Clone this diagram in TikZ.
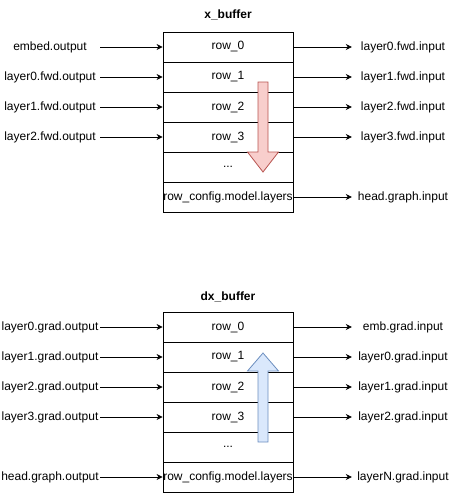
\documentclass[tikz,border=0pt]{standalone}
\usepackage{fontspec}
\setmainfont{Liberation Sans}
\usetikzlibrary{arrows.meta}
\definecolor{fwdfill}{HTML}{F8CECC}
\definecolor{fwdline}{HTML}{B85450}
\definecolor{bwdfill}{HTML}{DAE8FC}
\definecolor{bwdline}{HTML}{6C8EBF}
\tikzset{
  txt/.style={font=\fontsize{12}{14}\selectfont, inner sep=0pt},
  title/.style={txt, font=\fontsize{12}{14}\selectfont\bfseries},
  row/.style={txt, draw, line width=0.8pt, minimum width=130pt, minimum height=30pt},
  inlabel/.style={txt, minimum width=100pt, minimum height=14pt},
  outlabel/.style={txt, minimum width=102pt, minimum height=14pt},
  fwdflow/.style={draw=fwdline, fill=fwdfill, line width=0.8pt},
  bwdflow/.style={draw=bwdline, fill=bwdfill, line width=0.8pt},
}
\begin{document}
\begin{tikzpicture}[x=1pt,y=-1pt]
      \useasboundingbox (0,0) rectangle (455,493);
      % forward buffer
      \node[title] (xtitle) at (228,15) {x\_buffer};
      \draw
        (228,47) node[row] (x0){row\_0}
        (228,77) node[row] (x1){row\_1}
        (228,107) node[row] (x2){row\_2}
        (228,137) node[row] (x3){row\_3}
        (228,167) node[row] (x4){...}
        (228,197) node[row] (x5){row\_config.model.layers};
      \draw
        (50,47) node[inlabel] (xin0){embed.output}
        (50,77) node[inlabel] (xin1){layer0.fwd.output}
        (50,107) node[inlabel] (xin2){layer1.fwd.output}
        (50,137) node[inlabel] (xin3){layer2.fwd.output};
      \draw
        (403,47) node[outlabel] (xout0){layer0.fwd.input}
        (403,77) node[outlabel] (xout1){layer1.fwd.input}
        (403,107) node[outlabel] (xout2){layer2.fwd.input}
        (403,137) node[outlabel] (xout3){layer3.fwd.input}
        (403,197) node[outlabel] (xout5){head.graph.input};
      \begin{scope}[-{Stealth[length=6pt,width=6pt]}, line width=0.8pt]
        \draw (xin0) to (x0);
        \draw (xin1) to (x1);
        \draw (xin2) to (x2);
        \draw (xin3) to (x3);
        \draw (x0) to (xout0);
        \draw (x1) to (xout1);
        \draw (x2) to (xout2);
        \draw (x3) to (xout3);
        \draw (x5) to (xout5);
      \end{scope}
      \draw[fwdflow] (258,82) -- (268,82) -- (268,152) -- (278.5,152)
        -- (263,172) -- (247.5,152) -- (258,152) -- cycle;
      % backward buffer
      \node[title] (dxtitle) at (228,297) {dx\_buffer};
      \draw
        (228,327) node[row] (dx0){row\_0}
        (228,357) node[row] (dx1){row\_1}
        (228,387) node[row] (dx2){row\_2}
        (228,417) node[row] (dx3){row\_3}
        (228,447) node[row] (dx4){...}
        (228,477) node[row] (dx5){row\_config.model.layers};
      \draw
        (50,327) node[inlabel] (dxin0){layer0.grad.output}
        (50,357) node[inlabel] (dxin1){layer1.grad.output}
        (50,387) node[inlabel] (dxin2){layer2.grad.output}
        (50,417) node[inlabel] (dxin3){layer3.grad.output}
        (50,477) node[inlabel] (dxin5){head.graph.output};
      \draw
        (403,327) node[outlabel] (dxout0){emb.grad.input}
        (403,357) node[outlabel] (dxout1){layer0.grad.input}
        (403,387) node[outlabel] (dxout2){layer1.grad.input}
        (403,417) node[outlabel] (dxout3){layer2.grad.input}
        (403,477) node[outlabel] (dxout5){layerN.grad.input};
      \begin{scope}[-{Stealth[length=6pt,width=6pt]}, line width=0.8pt]
        \draw (dxin0) to (dx0);
        \draw (dxin1) to (dx1);
        \draw (dxin2) to (dx2);
        \draw (dxin3) to (dx3);
        \draw (dxin5) to (dx5);
        \draw (dx0) to (dxout0);
        \draw (dx1) to (dxout1);
        \draw (dx2) to (dxout2);
        \draw (dx3) to (dxout3);
        \draw (dx5) to (dxout5);
      \end{scope}
      \draw[bwdflow] (258,442) -- (268,442) -- (268,371) -- (278.5,371)
        -- (263,353) -- (247.5,371) -- (258,371) -- cycle;
    \end{tikzpicture}
\end{document}
